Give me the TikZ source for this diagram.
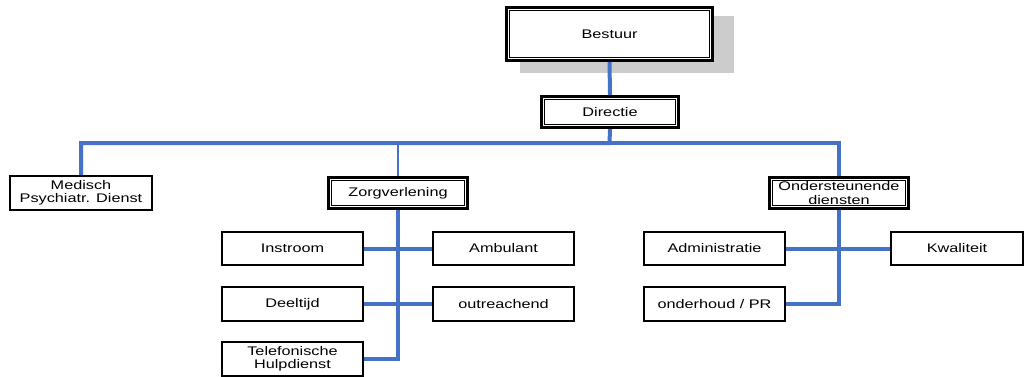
\documentclass[tikz,border=0pt]{standalone}
\usepackage{fontspec}
\usetikzlibrary{calc}
\setmainfont[FakeStretch=1.3]{Liberation Sans}
\definecolor{conblue}{HTML}{4472C4}
\definecolor{shadowgray}{HTML}{CCCCCC}
\begin{document}
\begin{tikzpicture}[x=1pt,y=-1pt,
  every node/.style={font=\fontsize{12.5}{13.5}\selectfont, align=center, inner sep=0pt},
  box/.style={draw=black, line width=1.7pt, fill=white, minimum width=141pt, minimum height=33pt},
  dbox/.style={draw=black, line width=3pt, fill=white, minimum width=140pt, minimum height=32pt},
  innerline/.style={draw=black, line width=0.9pt},
  con/.style={draw=conblue, line width=4pt},
  thincon/.style={draw=conblue, line width=1.5pt}]
\useasboundingbox (0,0) rectangle (1024,376);
% shadow of Bestuur
\fill[shadowgray] (520,16) rectangle (734,73);
% nodes
\node[dbox, minimum width=206pt, minimum height=53pt] (bestuur) at (609.5,34) {Bestuur};
\node[dbox, minimum width=137pt, minimum height=31pt] (directie) at (610,112) {Directie};
\node[box, minimum width=142pt, minimum height=34pt] (medisch) at (81,193) {Medisch\\Psychiatr. Dienst};
\node[dbox, minimum width=139pt, minimum height=31pt] (zorg) at (398,193) {Zorgverlening};
\node[dbox, minimum width=139pt, minimum height=31pt] (onder) at (839,193) {Ondersteunende\\diensten};
\node[box] (instroom) at (292.5,248.5) {Instroom};
\node[box] (ambulant) at (503.5,248.5) {Ambulant};
\node[box, minimum height=34pt] (deeltijd) at (292.5,304) {Deeltijd};
\node[box, minimum height=34pt] (outreach) at (503.5,304) {outreachend};
\node[box, minimum height=34pt] (tel) at (292.5,359) {Telefonische\\Hulpdienst};
\node[box] (admin) at (714.5,248.5) {Administratie};
\node[box, minimum width=132pt] (kwal) at (957,248.5) {Kwaliteit};
\node[box, minimum height=34pt] (onderhoud) at (714.5,304) {onderhoud / PR};
% inner lines of the double borders
\foreach \n in {bestuur,directie,zorg,onder}
  \draw[innerline] ($(\n.north west)+(4.4,4.4)$) rectangle ($(\n.south east)+(-4.4,-4.4)$);
% connectors
\coordinate (bus) at (609.5,143);
\draw[con] (bestuur.south) -- (directie.north);
\draw[con] (directie.south) -- (bus) -| (medisch.north);
\draw[con] (bus) -| (onder.north);
\draw[thincon] (zorg.north |- bus) -- (zorg.north);
\draw[con] (zorg.south) |- (tel.east);
\draw[con] (instroom.east) -- (ambulant.west);
\draw[con] (deeltijd.east) -- (outreach.west);
\draw[con] (onder.south) |- (onderhoud.east);
\draw[con] (admin.east) -- (kwal.west);
\end{tikzpicture}
\end{document}
